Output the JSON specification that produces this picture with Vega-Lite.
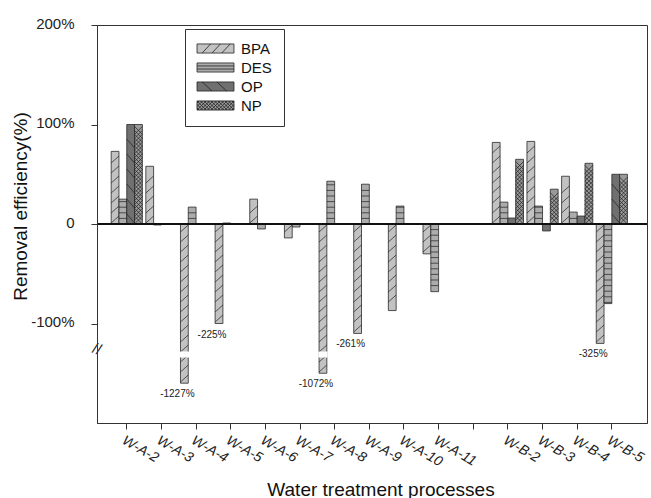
{
  "$schema": "https://vega.github.io/schema/vega-lite/v6.json",
  "width": 550,
  "height": 398,
  "autosize": {"type": "none"},
  "padding": {"left": 97, "top": 25, "right": 4, "bottom": 75},
  "background": "white",
  "config": {
    "font": "Liberation Sans",
    "view": {"stroke": "#333", "strokeWidth": 1},
    "legend": {
      "orient": "none",
      "legendX": 88,
      "legendY": 4,
      "strokeColor": "#333",
      "fillColor": "#ffffff",
      "padding": 12,
      "labelFontSize": 15,
      "labelColor": "#111",
      "symbolSize": 196,
      "symbolOpacity": 1,
      "symbolStrokeWidth": 0.8,
      "symbolOffset": 11,
      "labelOffset": 18,
      "rowPadding": 3
    }
  },
  "data": {
    "values": [
      {"process": "W-A-2", "compound": "BPA", "value": 73},
      {"process": "W-A-2", "compound": "DES", "value": 25},
      {"process": "W-A-2", "compound": "OP", "value": 100},
      {"process": "W-A-2", "compound": "NP", "value": 100},
      {"process": "W-A-3", "compound": "BPA", "value": 58},
      {"process": "W-A-3", "compound": "DES", "value": -1},
      {"process": "W-A-4", "compound": "BPA", "value": -160, "note": "-1227%"},
      {"process": "W-A-4", "compound": "DES", "value": 17},
      {"process": "W-A-5", "compound": "BPA", "value": -100, "note": "-225%"},
      {"process": "W-A-5", "compound": "DES", "value": 1},
      {"process": "W-A-6", "compound": "BPA", "value": 25},
      {"process": "W-A-6", "compound": "DES", "value": -5},
      {"process": "W-A-7", "compound": "BPA", "value": -14},
      {"process": "W-A-7", "compound": "DES", "value": -3},
      {"process": "W-A-8", "compound": "BPA", "value": -150, "note": "-1072%"},
      {"process": "W-A-8", "compound": "DES", "value": 43},
      {"process": "W-A-9", "compound": "BPA", "value": -110, "note": "-261%"},
      {"process": "W-A-9", "compound": "DES", "value": 40},
      {"process": "W-A-10", "compound": "BPA", "value": -87},
      {"process": "W-A-10", "compound": "DES", "value": 18},
      {"process": "W-A-11", "compound": "BPA", "value": -30},
      {"process": "W-A-11", "compound": "DES", "value": -68},
      {"process": "W-B-2", "compound": "BPA", "value": 82},
      {"process": "W-B-2", "compound": "DES", "value": 22},
      {"process": "W-B-2", "compound": "OP", "value": 6},
      {"process": "W-B-2", "compound": "NP", "value": 65},
      {"process": "W-B-3", "compound": "BPA", "value": 83},
      {"process": "W-B-3", "compound": "DES", "value": 18},
      {"process": "W-B-3", "compound": "OP", "value": -7},
      {"process": "W-B-3", "compound": "NP", "value": 35},
      {"process": "W-B-4", "compound": "BPA", "value": 48},
      {"process": "W-B-4", "compound": "DES", "value": 12},
      {"process": "W-B-4", "compound": "OP", "value": 8},
      {"process": "W-B-4", "compound": "NP", "value": 61},
      {"process": "W-B-5", "compound": "BPA", "value": -120, "note": "-325%"},
      {"process": "W-B-5", "compound": "DES", "value": -80},
      {"process": "W-B-5", "compound": "OP", "value": 50},
      {"process": "W-B-5", "compound": "NP", "value": 50}
    ]
  },
  "encoding": {
    "x": {
      "field": "process",
      "type": "nominal",
      "title": "Water treatment processes",
      "scale": {
        "domain": ["W-A-2", "W-A-3", "W-A-4", "W-A-5", "W-A-6", "W-A-7", "W-A-8", "W-A-9", "W-A-10", "W-A-11", " ", "W-B-2", "W-B-3", "W-B-4", "W-B-5"],
        "paddingInner": 0.1,
        "paddingOuter": 0.487,
        "align": 0.42
      },
      "axis": {
        "labelAngle": 30,
        "labelAlign": "left",
        "labelBaseline": "top",
        "labelFontStyle": "italic",
        "labelFontSize": 14,
        "labelPadding": 4,
        "labelColor": "#222",
        "tickSize": 6,
        "tickColor": "#333",
        "domainColor": "#333",
        "grid": false,
        "titleFontSize": 19,
        "titleFontWeight": "normal",
        "titleColor": "#111",
        "titleX": 283.5,
        "titleY": 72,
        "titleAlign": "center",
        "titleBaseline": "alphabetic",
        "zindex": 1
      }
    },
    "xOffset": {
      "field": "compound",
      "type": "nominal",
      "scale": {"domain": ["BPA", "DES", "OP", "NP"], "paddingInner": 0, "paddingOuter": 0}
    }
  },
  "layer": [
    {
      "mark": {"type": "bar", "stroke": "#2a2a2a", "strokeWidth": 0.8},
      "encoding": {
        "y": {
          "field": "value",
          "type": "quantitative",
          "title": "Removal efficiency(%)",
          "scale": {"domain": [-200, 200], "nice": false, "zero": false},
          "axis": {
            "values": [-100, 0, 100, 200],
            "labelExpr": "datum.value === 0 ? '0' : datum.value + '%'",
            "labelFontSize": 15,
            "labelPadding": 17,
            "labelOffset": -2,
            "labelFlush": false,
            "labelColor": "#222",
            "tickSize": 6,
            "tickColor": "#333",
            "domainColor": "#333",
            "grid": false,
            "titleFontSize": 19,
            "titleFontWeight": "normal",
            "titleColor": "#111",
            "titleX": -77,
            "titleY": 181,
            "titleAngle": -90,
            "titleAlign": "center",
            "titleBaseline": "middle",
            "zindex": 1
          }
        },
        "fill": {
          "field": "compound",
          "type": "nominal",
          "scale": {"domain": ["BPA", "DES", "OP", "NP"], "range": ["#c2c2c2", "#acacac", "#707070", "#9a9a9a"]},
          "legend": {"title": null}
        }
      }
    },
    {
      "mark": {"type": "point", "filled": false, "opacity": 1, "strokeOpacity": 1, "size": 4, "stroke": "#1e1e1e", "strokeWidth": 0.7,
        "shape": {"expr": "datum.compound === 'DES' ? 'M-3.9,0' + pad('', floor((abs(datum.value) * 0.995 - 1) / 5.6), datum.value > 0 ? 'm0,-5.6h7.8m-7.8,0' : 'm0,5.6h7.8m-7.8,0') : datum.compound === 'BPA' ? (datum.value > 0 ? 'M-3.9,-1' + pad('', floor((abs(datum.value) * 0.995 - 8) / 10) + 1, 'l7.8,-7m-7.8,-3') : 'M-3.9,8' + pad('', floor((abs(datum.value) * 0.995 - 8) / 10) + 1, 'l7.8,-7m-7.8,17')) : datum.compound === 'OP' ? (datum.value > 0 ? 'M-3.9,-10' + pad('', floor((abs(datum.value) * 0.995 - 10) / 15) + 1, 'l7.8,9m-7.8,-24') : 'M0,0') : 'M-3.9,0' + pad('', floor((abs(datum.value) * 0.995 - 7.8) / 3.9) + 1, 'l7.8,-7.8m-7.8,0l7.8,7.8m-7.8,-3.9')"}
      },
      "encoding": {
        "y": {"datum": 0}
      }
    },
    {
      "mark": {"type": "point", "filled": true, "opacity": 0, "strokeWidth": 0.8},
      "encoding": {
        "y": {"field": "value", "type": "quantitative"},
        "shape": {
          "field": "compound",
          "type": "nominal",
          "scale": {
            "domain": ["BPA", "DES", "OP", "NP"],
            "range": [
              "M-2.64,-0.65H2.64V0.65H-2.64Z M-1.9,0.65L-0.7,-0.65 M-0.5,0.65L0.7,-0.65 M0.9,0.65L2.1,-0.65",
              "M-2.64,-0.65H2.64V0.65H-2.64Z M-2.64,-0.22H2.64 M-2.64,0.22H2.64",
              "M-2.64,-0.65H2.64V0.65H-2.64Z M-1.9,-0.65L-0.5,0.65 M0.2,-0.65L1.6,0.65",
              "M-2.64,-0.65H2.64V0.65H-2.64Z M-2.64,-0.35L-2.34,-0.65 M-2.64,0.15L-1.84,-0.65 M-2.64,0.65L-1.34,-0.65 M-2.14,0.65L-0.84,-0.65 M-1.64,0.65L-0.34,-0.65 M-1.14,0.65L0.16,-0.65 M-0.64,0.65L0.66,-0.65 M-0.14,0.65L1.16,-0.65 M0.36,0.65L1.66,-0.65 M0.86,0.65L2.16,-0.65 M1.36,0.65L2.64,-0.63 M1.86,0.65L2.64,-0.13 M2.36,0.65L2.64,0.37 M-2.64,0.35L-2.34,0.65 M-2.64,-0.15L-1.84,0.65 M-2.64,-0.65L-1.34,0.65 M-2.14,-0.65L-0.84,0.65 M-1.64,-0.65L-0.34,0.65 M-1.14,-0.65L0.16,0.65 M-0.64,-0.65L0.66,0.65 M-0.14,-0.65L1.16,0.65 M0.36,-0.65L1.66,0.65 M0.86,-0.65L2.16,0.65 M1.36,-0.65L2.64,0.63 M1.86,-0.65L2.64,0.13 M2.36,-0.65L2.64,-0.37"
            ]
          },
          "legend": {"title": null}
        },
        "stroke": {
          "field": "compound",
          "type": "nominal",
          "scale": {"domain": ["BPA", "DES", "OP", "NP"], "range": ["#222222", "#222222", "#222222", "#222222"]},
          "legend": {"title": null}
        }
      }
    },
    {
      "transform": [{"filter": "datum.value < -130"}],
      "mark": {"type": "bar", "fill": "white", "stroke": "white", "strokeWidth": 1.5},
      "encoding": {
        "y": {"datum": -129},
        "y2": {"datum": -133.5}
      }
    },
    {
      "mark": {"type": "rule", "color": "#111", "strokeWidth": 1},
      "encoding": {"y": {"datum": 0}, "xOffset": null, "x": null}
    },
    {
      "transform": [{"filter": "isValid(datum.note)"}],
      "mark": {"type": "text", "baseline": "top", "align": "center", "dy": 6, "dx": -7, "fontSize": 10, "color": "#222"},
      "encoding": {
        "y": {"field": "value", "type": "quantitative"},
        "text": {"field": "note"}
      }
    },
    {
      "data": {"values": [{"mark": "//"}]},
      "mark": {"type": "text", "fontSize": 15, "angle": 18, "align": "center", "baseline": "middle", "color": "#222"},
      "encoding": {
        "x": {"value": 0},
        "xOffset": null,
        "y": {"datum": -125.5},
        "text": {"field": "mark"}
      }
    }
  ]
}
